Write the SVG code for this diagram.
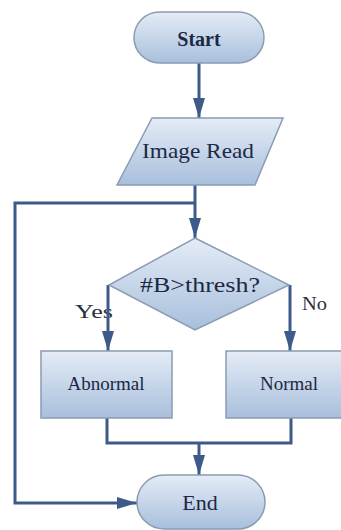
<svg xmlns="http://www.w3.org/2000/svg" width="341" height="530" viewBox="0 0 341 530">
<defs>
<linearGradient id="g" x1="0" y1="0" x2="0" y2="1">
<stop offset="0" stop-color="#e4ecf6"/>
<stop offset="1" stop-color="#a8bfdc"/>
</linearGradient>
<marker id="arr" viewBox="0 0 20 12" refX="20" refY="6" markerWidth="20" markerHeight="12" markerUnits="userSpaceOnUse" orient="auto">
<path d="M0,0 L20,6 L0,12 Z" fill="#3d5a88"/>
</marker>
<style>
.shape{fill:url(#g);stroke:#8b9bb2;stroke-width:1.5}
.lbl{font-family:"Liberation Serif","Times New Roman",serif;fill:#1c2844;text-anchor:middle}
.edge{fill:none;stroke:#3d5a88;stroke-width:3}
.tag{font-family:"Liberation Serif","Times New Roman",serif;fill:#2a2f3a;font-size:18px}
</style>
</defs>
<rect width="341" height="530" fill="#ffffff"/>
<g id="yesLabel">
<text class="tag" x="75" y="318" textLength="38" lengthAdjust="spacingAndGlyphs">Yes</text>
</g>
<g id="noLabel">
<text class="tag" x="302" y="310" textLength="25" lengthAdjust="spacingAndGlyphs">No</text>
</g>
<g id="connectors">
<line class="edge" x1="199" y1="63" x2="199" y2="118" marker-end="url(#arr)"/>
<line class="edge" x1="195" y1="185" x2="195" y2="238" marker-end="url(#arr)"/>
<polyline class="edge" points="195,203 15,203 15,503 137,503" marker-end="url(#arr)"/>
<line class="edge" x1="108" y1="285" x2="108" y2="351" marker-end="url(#arr)"/>
<line class="edge" x1="290" y1="285" x2="290" y2="351" marker-end="url(#arr)"/>
<polyline class="edge" points="107,418 107,443 291,443 291,418"/>
<line class="edge" x1="199" y1="443" x2="199" y2="475" marker-end="url(#arr)"/>
</g>
<g id="start">
<rect class="shape" x="134" y="12" width="130" height="51" rx="25.5"/>
<text class="lbl" x="199" y="46" font-size="20" font-weight="bold">Start</text>
</g>
<g id="imageRead">
<polygon class="shape" points="152,118 283,118 255,185 117,185"/>
<text class="lbl" x="198" y="158" font-size="22" textLength="112" lengthAdjust="spacingAndGlyphs">Image Read</text>
</g>
<g id="decision">
<polygon class="shape" points="195,238 289,285 195,330 109,285"/>
<text class="lbl" x="200" y="292" font-size="22" textLength="120" lengthAdjust="spacingAndGlyphs">#B&gt;thresh?</text>
</g>
<g id="abnormal">
<rect class="shape" x="41" y="351" width="131" height="67"/>
<text class="lbl" x="106" y="390" font-size="19">Abnormal</text>
</g>
<g id="normal">
<rect class="shape" x="226" y="351" width="120" height="67"/>
<text class="lbl" x="289" y="390" font-size="19">Normal</text>
</g>
<g id="end">
<rect class="shape" x="137" y="475" width="128" height="54" rx="27"/>
<text class="lbl" x="200" y="510" font-size="22">End</text>
</g>
</svg>
